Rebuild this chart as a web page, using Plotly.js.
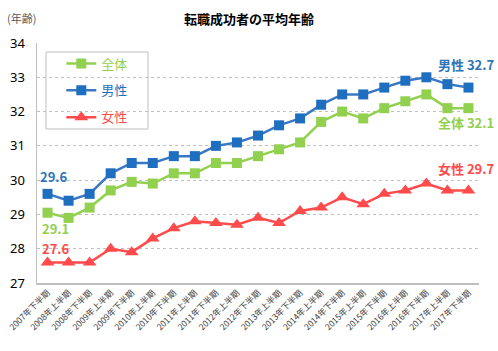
<!DOCTYPE html>
<html>
<head>
<meta charset="utf-8">
<script src="https://cdn.plot.ly/plotly-3.0.1.min.js"></script>
<style>html,body{margin:0;padding:0;background:#fff;}#chart{width:498px;height:351px;}</style>
</head>
<body>
<div id="chart"></div>
<script>
const categories = ["2007年下半期","2008年上半期","2008年下半期","2009年上半期","2009年下半期","2010年上半期","2010年下半期","2011年上半期","2011年下半期","2012年上半期","2012年下半期","2013年上半期","2013年下半期","2014年上半期","2014年下半期","2015年上半期","2015年下半期","2016年上半期","2016年下半期","2017年上半期","2017年下半期"];
const overall = [29.05,28.9,29.2,29.7,29.95,29.9,30.2,30.2,30.5,30.5,30.7,30.9,31.1,31.7,32.0,31.8,32.1,32.3,32.5,32.1,32.1];
const male    = [29.6,29.4,29.6,30.2,30.5,30.5,30.7,30.7,31.0,31.1,31.3,31.6,31.8,32.2,32.5,32.5,32.7,32.9,33.0,32.8,32.7];
const female  = [27.6,27.6,27.6,28.0,27.9,28.3,28.6,28.8,28.75,28.7,28.9,28.75,29.1,29.2,29.5,29.3,29.6,29.7,29.9,29.7,29.7];
const names = ["全体","男性","女性"];
const firstLabels = ["29.1","29.6","27.6"];
const lastLabels = ["全体 32.1","男性 32.7","女性 29.7"];

const GREEN = "#92d050", BLUE = "#1f6fc0", BLUE_LINE = "#3b78c3", RED = "#ff4b4b";
const JP = "'Noto Sans CJK JP', 'Noto Sans', sans-serif";

function tr(y, name, color, lineColor, symbol, size, group) {
  return {
    x: categories, y: y, type: "scatter", mode: "lines+markers",
    name: '<span style="color:' + color + '">' + name + '</span>',
    legendgroup: group,
    line: {color: lineColor, width: 2.5},
    marker: {color: color, symbol: symbol, size: size}
  };
}
const data = [
  tr(overall, names[0], GREEN, GREEN, "square", 10, "g1"),
  tr(male, names[1], BLUE, BLUE_LINE, "square", 10, "g2"),
  tr(female, names[2], RED, RED, "triangle-up", 12, "g3")
];

const series = [overall, male, female];
const colors = [GREEN, "#2e75b6", RED];
const firstShift = [[8,-16],[6,17],[8,14]];
const lastShift = [[-2,-14],[-2,23],[-2,22]];
const annotations = [];
for (let k = 0; k < 3; k++) {
  annotations.push({x: categories[0], y: series[k][0], text: "<b>" + firstLabels[k] + "</b>", showarrow: false,
    xshift: firstShift[k][0], yshift: firstShift[k][1], font: {family: JP, size: 13, color: colors[k]}});
  const n = categories.length - 1;
  annotations.push({x: categories[n], y: series[k][n], text: "<b>" + lastLabels[k] + "</b>", showarrow: false,
    xshift: lastShift[k][0], yshift: lastShift[k][1], font: {family: JP, size: 13, color: colors[k]}});
}
annotations.push({xref: "paper", yref: "paper", x: -0.072, y: 1.104, xanchor: "left", yanchor: "middle",
  text: "(年齢)", showarrow: false, font: {family: JP, size: 11, color: "#595959"}});

const layout = {
  width: 498, height: 351,
  margin: {l: 37, r: 19, t: 43, b: 68},
  paper_bgcolor: "#fff", plot_bgcolor: "#fff",
  font: {family: JP, color: "#404040"},
  title: {text: "<b>転職成功者の平均年齢</b>", x: 0.5, xref: "container", y: 0.945, yanchor: "middle",
    font: {family: JP, size: 13, color: "#000"}},
  xaxis: {type: "category", range: [-0.5, 20.5], showgrid: false, showline: true, linecolor: "#bfbfbf", linewidth: 1.5,
    tickangle: -45, tickfont: {family: JP, size: 8.5, color: "#404040"}, ticks: "", zeroline: false, fixedrange: true},
  yaxis: {range: [27, 34], dtick: 1, showgrid: true, gridcolor: "#c0c0c0", griddash: "dot", gridwidth: 1,
    showline: true, linecolor: "#bfbfbf", linewidth: 1.5, zeroline: false, ticks: "",
    ticklabelstandoff: 8, tickfont: {family: "'Noto Sans', sans-serif", size: 13, color: "#000"}, fixedrange: true},
  showlegend: true,
  legend: {x: 0.055, y: 0.977, xanchor: "left", yanchor: "top", bgcolor: "rgba(0,0,0,0)", borderwidth: 0,
    tracegroupgap: 7, font: {family: JP, size: 13}, itemclick: false},
  shapes: [{type: "rect", xref: "paper", yref: "paper", x0: 9/442, x1: 111/442, y0: 1 - 86/240, y1: 1 - 9/240,
    line: {color: "#bfbfbf", width: 1}, fillcolor: "#fff", layer: "below"}],
  annotations: annotations
};
Plotly.newPlot("chart", data, layout, {displayModeBar: false, staticPlot: true});
</script>
</body>
</html>
